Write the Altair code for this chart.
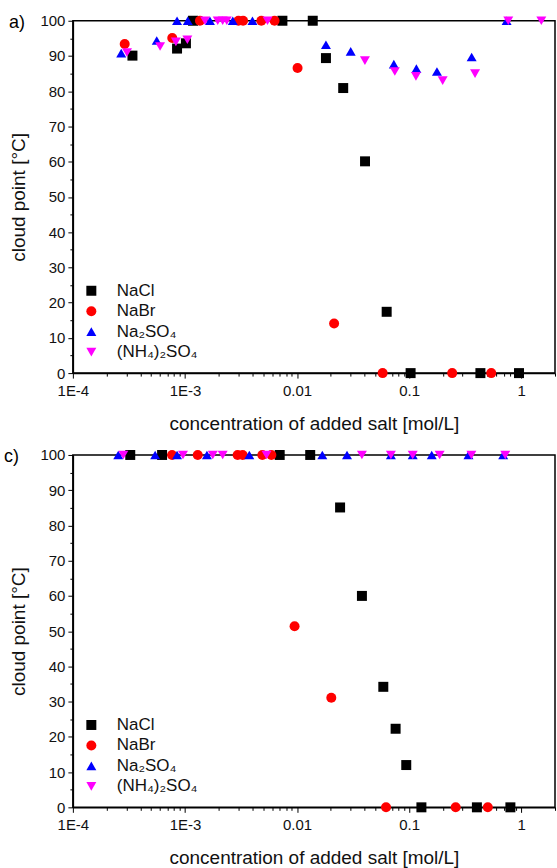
import altair as alt
import pandas as pd

FONT = "Liberation Sans"

SALTS = ["NaCl", "NaBr", "Na₂SO₄", "(NH₄)₂SO₄"]
COLORS = ["#000000", "#ff0000", "#0000ff", "#ff00ff"]
SHAPES = ["square", "circle", "triangle-up", "triangle-down"]
PANEL_LABELS = ["a)", "c)"]

# ---- panel a) : concentration [mol/L] and cloud point [°C] per salt ----
a_nacl_c = [3.4e-4, 8.5e-4, 1.02e-3, 1.18e-3, 7.4e-3, 0.0138, 0.0181, 0.0258, 0.0404, 0.063, 0.103, 0.432, 0.955]
a_nacl_t = [90.1, 92.1, 93.6, 100, 100, 100, 89.4, 80.9, 60.1, 17.4, 0, 0, 0]

a_nabr_c = [2.9e-4, 7.7e-4, 1.36e-3, 3.0e-3, 3.3e-3, 4.8e-3, 6.3e-3, 0.0101, 0.0214, 0.058, 0.242, 0.54]
a_nabr_t = [93.4, 95.1, 100, 100, 100, 100, 100, 86.6, 14.1, 0, 0, 0]

a_na2so4_c = [2.7e-4, 5.6e-4, 8.5e-4, 1.06e-3, 1.67e-3, 2.67e-3, 4.0e-3, 0.0181, 0.0301, 0.073, 0.116, 0.177, 0.361, 0.74]
a_na2so4_t = [90.8, 94.4, 100, 100, 100, 100, 100, 93.2, 91.3, 87.7, 86.4, 85.6, 89.7, 100]

a_nh4so4_c = [3.04e-4, 6.0e-4, 8.3e-4, 1.05e-3, 1.51e-3, 1.96e-3, 2.17e-3, 2.36e-3, 5.45e-3, 0.0403, 0.0745, 0.115, 0.199, 0.387, 0.766, 1.51]
a_nh4so4_t = [91.0, 92.7, 94.0, 94.6, 100, 100, 100, 100, 100, 88.7, 85.6, 84.2, 83.0, 85.0, 100, 100]

# ---- panel c) ----
c_nacl_c = [3.25e-4, 6.25e-4, 7.0e-3, 0.0131, 0.0242, 0.0379, 0.0588, 0.0757, 0.0942, 0.1286, 0.402, 0.80]
c_nacl_t = [100, 100, 100, 100, 85.1, 60.0, 34.2, 22.3, 12.0, 0, 0, 0]

c_nabr_c = [7.67e-4, 1.30e-3, 2.95e-3, 3.27e-3, 4.9e-3, 5.9e-3, 0.0095, 0.0202, 0.0622, 0.26, 0.503]
c_nabr_t = [100, 100, 100, 100, 100, 100, 51.4, 31.1, 0, 0, 0]

c_na2so4_c = [2.54e-4, 5.42e-4, 8.5e-4, 1.57e-3, 3.75e-3, 0.0168, 0.0279, 0.0687, 0.1076, 0.159, 0.338, 0.69]
c_na2so4_t = [100, 100, 100, 100, 100, 100, 100, 100, 100, 100, 100, 100]

c_nh4so4_c = [2.82e-4, 9.6e-4, 1.77e-3, 2.17e-3, 5.34e-3, 0.0379, 0.0687, 0.1076, 0.187, 0.359, 0.72]
c_nh4so4_t = [100, 100, 100, 100, 100, 100, 100, 100, 100, 100, 100]


def table(series):
    rows = []
    for salt, (conc, temp) in zip(SALTS, series):
        for c, t in zip(conc, temp):
            rows.append({"salt": salt, "conc": c, "cp": t})
    return pd.DataFrame(rows)


df_a = table([(a_nacl_c, a_nacl_t), (a_nabr_c, a_nabr_t),
              (a_na2so4_c, a_na2so4_t), (a_nh4so4_c, a_nh4so4_t)])
df_c = table([(c_nacl_c, c_nacl_t), (c_nabr_c, c_nabr_t),
              (c_na2so4_c, c_na2so4_t), (c_nh4so4_c, c_nh4so4_t)])

# log axis: decades labelled, 2..9 as minor ticks
x_ticks = []
for e in range(-4, 1):
    for k in range(1, 10):
        v = float(f"{k}e{e}")
        if v <= 2:
            x_ticks.append(v)
x_ticks.append(2.0)
DECADE = "abs(log(datum.value)/LN10 - round(log(datum.value)/LN10)) < 0.001"
x_axis = alt.Axis(
    values=x_ticks,
    labelExpr=f"{DECADE} ? (datum.value < 0.005 ? '1E' + round(log(datum.value)/LN10) : format(datum.value, '')) : ''",
    tickSize={"condition": {"test": DECADE, "value": 5}, "value": 3},
    grid=False,
    labelFlush=False,
    labelPadding=5,
    titlePadding=16,
    title="concentration of added salt [mol/L]",
)
y_axis = alt.Axis(
    values=list(range(0, 101, 5)),
    labelExpr="datum.value % 10 === 0 ? datum.label : ''",
    tickSize={"condition": {"test": "datum.value % 10 === 0", "value": 5}, "value": 3},
    grid=False,
    labelFlush=False,
    labelPadding=3,
    titlePadding=11,
    title="cloud point [°C]",
)

W, H = 483, 353


def panel(df, label):
    pts = alt.Chart(df).mark_point(filled=True, size=100, opacity=1, strokeWidth=0).encode(
        x=alt.X("conc:Q", scale=alt.Scale(type="log", domain=[1e-4, 2], nice=False), axis=x_axis),
        y=alt.Y("cp:Q", scale=alt.Scale(domain=[0, 100], nice=False), axis=y_axis),
        color=alt.Color("salt:N", scale=alt.Scale(domain=SALTS, range=COLORS),
                        legend=alt.Legend(orient="none", legendX=10, legendY=262, title=None,
                                          labelFontSize=17, labelFont=FONT, labelColor="#111111",
                                          symbolSize=100, rowPadding=2.5, labelOffset=17, padding=0,
                                          symbolStrokeWidth=0)),
        shape=alt.Shape("salt:N", scale=alt.Scale(domain=SALTS, range=SHAPES)),
        order=alt.Order("idx:Q"),
    ).transform_calculate(idx="indexof(" + str(SALTS).replace("'", '"') + ", datum.salt)")
    txt = alt.Chart(pd.DataFrame({"t": [label]})).mark_text(
        align="left", baseline="middle", fontSize=18, font=FONT, color="black"
    ).encode(text="t:N", x=alt.value(-64 if label == "a)" else -69), y=alt.value(2))
    return alt.layer(pts, txt).properties(width=W, height=H)


chart = alt.vconcat(panel(df_a, PANEL_LABELS[0]), panel(df_c, PANEL_LABELS[1]), spacing=13).resolve_legend(
    color="independent", shape="independent"
).configure(
    padding={"left": 3, "top": 12, "right": 0, "bottom": 0},
    font=FONT,
).configure_view(
    stroke="black", strokeWidth=1.5
).configure_axis(
    domainColor="black", domainWidth=1.5, tickColor="black", tickWidth=1,
    labelColor="#111111", labelFontSize=15, labelFont=FONT,
    titleFont=FONT, titleFontSize=19, titleFontWeight="normal", titleColor="#111111",
)

chart.save("out.html", embed_options={"renderer": "svg", "actions": False})
